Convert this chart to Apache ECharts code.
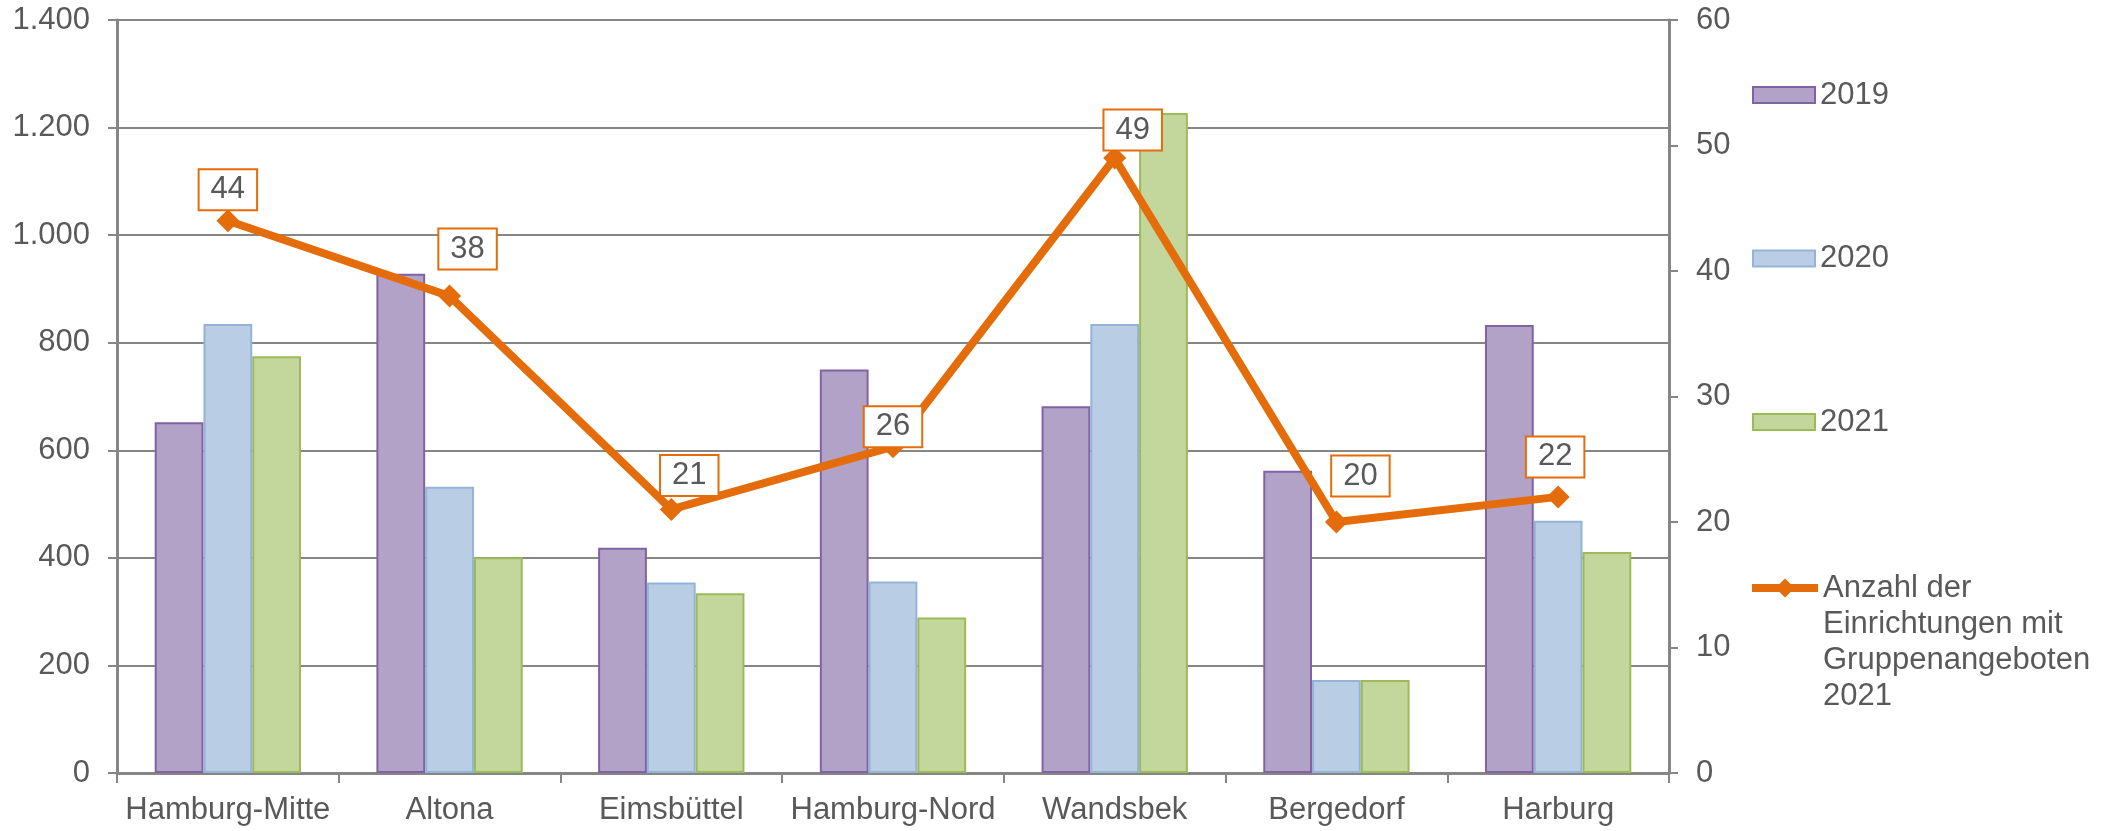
<!DOCTYPE html>
<html>
<head>
<meta charset="utf-8">
<script src="https://cdn.jsdelivr.net/npm/echarts@6/dist/echarts.min.js"></script>
<style>
  html, body { margin: 0; padding: 0; background: #fff; }
  #main { width: 2116px; height: 831px; }
</style>
</head>
<body>
<div id="main"></div>
<script type="text/javascript">
// Bezirke
var categories = ['Hamburg-Mitte', 'Altona', 'Eimsbüttel', 'Hamburg-Nord', 'Wandsbek', 'Bergedorf', 'Harburg'];
var values2019 = [652, 928, 419, 750, 682, 562, 833];
var values2020 = [835, 532, 354, 356, 835, 173, 469];
var values2021 = [775, 401, 334, 289, 1227, 173, 411];
// Anzahl der Einrichtungen mit Gruppenangeboten 2021 (rechte Achse)
var einrichtungen = [44, 38, 21, 26, 49, 20, 22];
var lineName = 'Anzahl der\nEinrichtungen mit\nGruppenangeboten\n2021';

// Lage der Beschriftungskästen relativ zum Punkt (nur Layout)
var labelOffsets = [[0, -31], [18, -47], [18, -34], [0, -20], [18, -28], [24, -46], [-3, -40]];

var textColor = '#595959';
var axisColor = '#868686';
var orange = '#e46c0a';
var font = 'Liberation Sans, Arial, sans-serif';
var fontSize = 31;

var lineData = einrichtungen.map(function (v, i) {
  return { value: v, label: { offset: labelOffsets[i] } };
});

var myChart = echarts.init(document.getElementById('main'));
myChart.setOption({
  animation: false,
  textStyle: { fontFamily: font },
  grid: { left: 117, right: 447, top: 20, bottom: 58 },
  legend: [
    {
      data: ['2019', '2020', '2021'],
      icon: 'rect',
      orient: 'vertical',
      left: 1747,
      top: 73,
      itemWidth: 62,
      itemHeight: 16,
      itemGap: 129.5,
      textStyle: { color: textColor, fontSize: fontSize, lineHeight: 34, fontFamily: font }
    },
    {
      data: [lineName],
      orient: 'vertical',
      left: 1743,
      top: 457,
      itemWidth: 66,
      itemHeight: 24,
      lineStyle: { width: 8 },
      formatter: function (name) { return '\n\n\n' + name; },
      textStyle: { color: textColor, fontSize: fontSize, lineHeight: 36, fontFamily: font }
    }
  ],
  xAxis: {
    type: 'category',
    data: categories,
    boundaryGap: true,
    axisLine: { lineStyle: { color: axisColor, width: 3 } },
    axisTick: { show: true, length: 10, lineStyle: { color: axisColor, width: 2 } },
    axisLabel: { color: textColor, fontSize: fontSize, margin: 22, interval: 0, fontFamily: font }
  },
  yAxis: [
    {
      type: 'value',
      min: 0,
      max: 1400,
      interval: 200,
      axisLine: { show: true, lineStyle: { color: axisColor, width: 3 } },
      axisTick: { show: true, length: 9, lineStyle: { color: axisColor, width: 2 } },
      splitLine: { show: true, lineStyle: { color: axisColor, width: 2 } },
      axisLabel: {
        color: textColor, fontSize: fontSize, margin: 27, fontFamily: font,
        formatter: function (v) { return String(v).replace(/\B(?=(\d{3})+(?!\d))/g, '.'); }
      }
    },
    {
      type: 'value',
      min: 0,
      max: 60,
      interval: 10,
      position: 'right',
      axisLine: { show: true, lineStyle: { color: axisColor, width: 3 } },
      axisTick: { show: true, length: 9, lineStyle: { color: axisColor, width: 2 } },
      splitLine: { show: false },
      axisLabel: { color: textColor, fontSize: fontSize, margin: 27, fontFamily: font }
    }
  ],
  series: [
    {
      name: '2019',
      type: 'bar',
      data: values2019,
      barWidth: '22%',
      barGap: '0%',
      itemStyle: { color: '#b3a2c7', borderColor: '#7f63a2', borderWidth: 2 }
    },
    {
      name: '2020',
      type: 'bar',
      data: values2020,
      barWidth: '22%',
      barGap: '0%',
      itemStyle: { color: '#b9cde5', borderColor: '#95b3d7', borderWidth: 2 }
    },
    {
      name: '2021',
      type: 'bar',
      data: values2021,
      barWidth: '22%',
      barGap: '0%',
      itemStyle: { color: '#c3d69b', borderColor: '#9bbb59', borderWidth: 2 }
    },
    {
      name: lineName,
      type: 'line',
      yAxisIndex: 1,
      data: lineData,
      z: 5,
      symbol: 'diamond',
      symbolSize: 23,
      lineStyle: { color: orange, width: 8 },
      itemStyle: { color: orange },
      label: {
        show: true,
        position: 'inside',
        color: textColor,
        fontSize: fontSize,
        fontFamily: font,
        backgroundColor: '#ffffff',
        borderColor: orange,
        borderWidth: 2,
        padding: [5, 11, 3, 11]
      }
    }
  ]
});
</script>
</body>
</html>
